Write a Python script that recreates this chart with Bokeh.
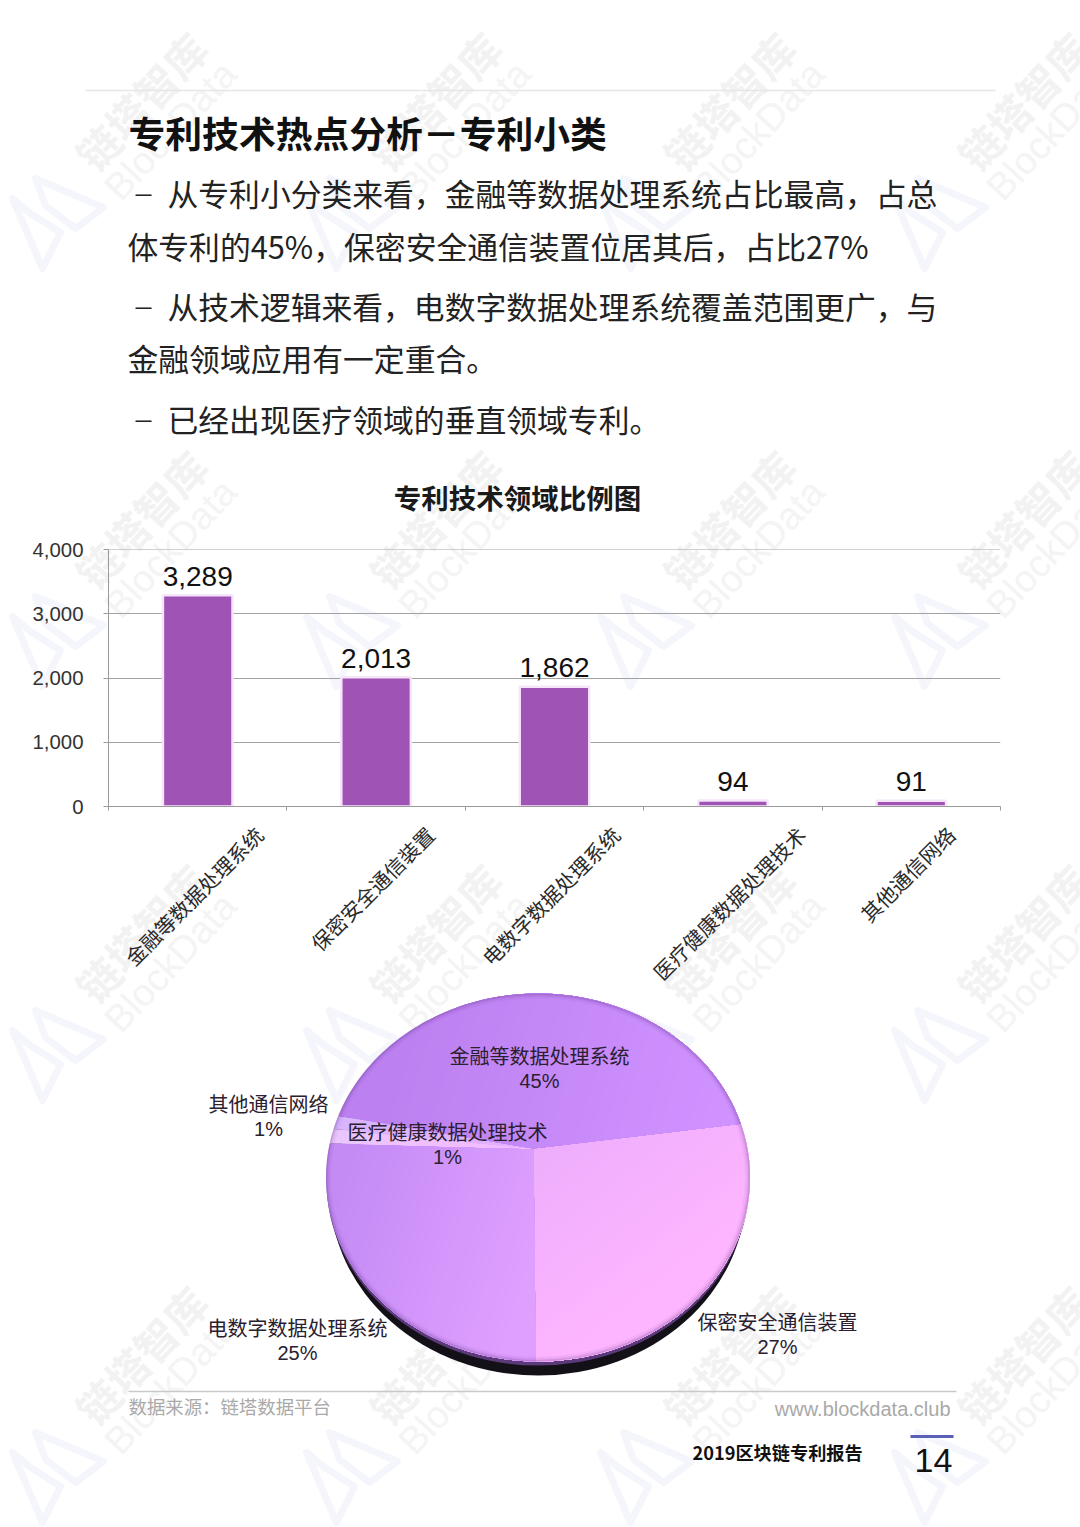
import math
import numpy as np
from bokeh.embed import file_html
from bokeh.layouts import column
from bokeh.models import ColumnDataSource, FixedTicker, LabelSet, LinearAxis, NumeralTickFormatter, Range1d, Span
from bokeh.plotting import figure
from bokeh.resources import INLINE
from bokeh.core.properties import value

categories = ["金融等数据处理系统", "保密安全通信装置", "电数字数据处理系统", "医疗健康数据处理技术", "其他通信网络"]
counts = [3289, 2013, 1862, 94, 91]
y_ticks = [0, 1000, 2000, 3000, 4000]

title_text = "专利技术热点分析－专利小类"
chart_title = "专利技术领域比例图"
bullet_lines = ["从专利小分类来看，金融等数据处理系统占比最高，占总",
                "体专利的45%，保密安全通信装置位居其后，占比27%",
                "从技术逻辑来看，电数字数据处理系统覆盖范围更广，与",
                "金融领域应用有一定重合。",
                "已经出现医疗领域的垂直领域专利。"]

CJK = "Noto Sans CJK SC"
LAT = "Liberation Sans"
W, H = 1080, 1527

# ---------- page layer: pixel coordinates of the page ----------
bg = figure(width=W, height=H, x_range=Range1d(0, W), y_range=Range1d(H, 0),
            output_backend="svg", toolbar_location=None, min_border=0,
            x_axis_type=None, y_axis_type=None, outline_line_color=None, frame_align=False)
bg.grid.visible = False
bg.background_fill_color = "white"
bg.border_fill_color = "white"

def put(x, y, s, size, color="#1a1a1a", font=CJK, style="normal", align="left", angle=0.0, fig=bg):
    fig.text([x], [y], text=[s], text_font=value(font), text_font_size=f"{size}px",
             text_font_style=style, text_color=color, text_align=align,
             text_baseline="middle", angle=angle)

# watermark tiles
for ty in [0, 418, 832, 1254]:
    for tx in [0, 294, 588, 882]:
        put(140 + tx, 100 + ty, "链塔智库", 42, "#f2f2f2", style="bold", align="center", angle=math.radians(47))
        put(170 + tx, 130 + ty, "BlockData", 38, "#f4f4f4", font=LAT, align="center", angle=math.radians(47))
        bg.patches([[12 + tx, 42 + tx, 60 + tx, 30 + tx], [35 + tx, 103 + tx, 75 + tx, 45 + tx]],
                   [[198 + ty, 268 + ty, 232 + ty, 213 + ty], [178 + ty, 207 + ty, 228 + ty, 205 + ty]],
                   fill_color=None, line_color="#f5f6fc", line_width=7, line_join="round")

# page text
bg.segment([85], [90], [995], [90], line_color="#e6e6e6", line_width=1.5)
put(128, 131, title_text, 36.8, "#111111", style="bold")
for yy in [192, 305, 418]:
    put(132, yy, "－", 22, "#222222")
put(167, 192, bullet_lines[0], 30.8, "#222222")
put(127, 245, bullet_lines[1], 30.8, "#222222")
put(167, 305, bullet_lines[2], 30.8, "#222222")
put(127, 357, bullet_lines[3], 30.8, "#222222")
put(167, 418, bullet_lines[4], 30.8, "#222222")
put(517, 496, chart_title, 27.5, "#1a1a1a", style="bold", align="center")

# ---------- pie ----------
cx, cy, rx, ry = 537.5, 1177.0, 212.0, 184.0
ax, ay = 533.0, 1148.0
d = (cy - ay) / ry

def on_rim(theta):
    X, Y = np.cos(theta), np.sin(theta)
    den = 1 + d * Y
    return cx + rx * X * math.sqrt(1 - d * d) / den, cy - ry * (Y + d) / den

def clip_half(px, py, nx, ny, c):
    out_x, out_y = [], []
    n = len(px)
    for i in range(n):
        x0, y0, x1, y1 = px[i], py[i], px[(i + 1) % n], py[(i + 1) % n]
        s0, s1 = nx * x0 + ny * y0 - c, nx * x1 + ny * y1 - c
        if s0 >= 0:
            out_x.append(x0); out_y.append(y0)
        if s0 * s1 < 0:
            t = s0 / (s0 - s1)
            out_x.append(x0 + t * (x1 - x0)); out_y.append(y0 + t * (y1 - y0))
    return out_x, out_y

def hex_rgb(h):
    return tuple(int(h[i:i + 2], 16) for i in (1, 3, 5))

# gradient per slice: from point, to point, from colour, to colour
shades = [((400, 1040), (700, 1130), "#BC80F0", "#D092FF"),
          ((545, 1150), (655, 1290), "#EEAEFC", "#FEB5FF"),
          ((335, 1190), (530, 1250), "#C48BF5", "#DF9FFF"),
          ((335, 1130), (530, 1148), "#EAC6FF", "#F5B8FF"),
          ((335, 1130), (530, 1148), "#D8B4FF", "#E5B0FF")]

total = sum(counts)
order = [1, 2, 3, 4, 0]
start = math.radians(8.1)
angle = start
xs, ys, cols = [], [], []
for idx in order:
    sweep = 2 * math.pi * counts[idx] / total
    th = np.linspace(angle, angle - sweep, 90)
    rim_x, rim_y = on_rim(th)
    px = [ax] + list(rim_x)
    py = [ay] + list(rim_y)
    angle -= sweep
    (x0, y0), (x1, y1), c0, c1 = shades[idx]
    L = math.hypot(x1 - x0, y1 - y0)
    nx, ny = (x1 - x0) / L, (y1 - y0) / L
    xs.append(px); ys.append(py); cols.append(c0)
    a, b = hex_rgb(c0), hex_rgb(c1)
    for k in range(1, 25):
        f = k / 24
        qx, qy = clip_half(px, py, nx, ny, nx * x0 + ny * y0 + f * L)
        if len(qx) > 2:
            xs.append(qx); ys.append(qy)
            cols.append("#%02x%02x%02x" % tuple(round(a[i] + f * (b[i] - a[i])) for i in range(3)))

bg.ellipse([cx], [cy + 14], width=rx * 2 - 8, height=ry * 2, fill_color="#141018", line_color=None)
bg.ellipse([cx], [cy + 4], width=rx * 2 - 1, height=ry * 2, fill_color="#5a3a78", line_color=None)
bg.patches(xs, ys, fill_color=cols, line_color=None)
for lw, al in [(5, 0.05), (3, 0.08), (1.5, 0.15)]:
    bg.ellipse([cx], [cy], width=rx * 2 - lw, height=ry * 2 - lw, fill_color=None,
               line_color="#4e2a70", line_alpha=al, line_width=lw)

pct = [f"{round(v / total * 100)}%" for v in counts]
pie_pos = [(539, 1055), (777, 1321), (297, 1327), (447, 1131), (268, 1103)]
for name, p_txt, (lx, ly) in zip(categories, pct, pie_pos):
    put(lx, ly, name, 20, "#2a2030", align="center")
    put(lx, ly + 25, p_txt, 20, "#2a2030", font=LAT, align="center")

# footer
bg.segment([128], [1391], [956], [1391], line_color="#c9c9c9", line_width=1.5)
put(128, 1405, "数据来源：链塔数据平台", 18.4, "#a9a9a9")
put(950, 1408, "www.blockdata.club", 20, "#a9a9a9", font=LAT, align="right")
put(692, 1451.5, "2019区块链专利报告", 18.2, "#111111", style="bold")
bg.segment([910], [1436], [953], [1436], line_color="#5a60b8", line_width=3)
put(933, 1460, "14", 34, "#111111", font=LAT, align="center")

# ---------- bar chart layer, laid over the page ----------
top_y, bottom_y = 470, 1040
p = figure(width=W, height=bottom_y - top_y, x_range=Range1d(0, 5), y_range=Range1d(0, 4000),
           output_backend="svg", toolbar_location=None,
           min_border_left=108, min_border_right=80, min_border_top=79,
           min_border_bottom=bottom_y - top_y - 79 - 257,
           outline_line_color=None, margin=(top_y - H, 0, 0, 0), frame_align=False)
p.background_fill_alpha = 0
p.border_fill_alpha = 0
p.xgrid.visible = False
p.ygrid.ticker = FixedTicker(ticks=y_ticks)
p.ygrid.grid_line_color = "#a2a2a2"
p.ygrid.grid_line_width = 1.2
p.add_layout(Span(location=y_ticks[-1], dimension="width", line_color="#a2a2a2", line_width=1.2))
p.yaxis.ticker = FixedTicker(ticks=y_ticks)
p.yaxis.formatter = NumeralTickFormatter(format="0,0")
p.yaxis.axis_line_color = "#9a9a9a"
p.yaxis.major_tick_line_color = "#9a9a9a"
p.yaxis.minor_tick_line_color = None
p.yaxis.major_tick_in = 0
p.yaxis.major_tick_out = 5
p.yaxis.major_label_text_font = LAT
p.yaxis.major_label_text_font_size = "20.4px"
p.yaxis.major_label_text_color = "#333333"
p.yaxis.major_label_standoff = 20
p.xaxis.ticker = FixedTicker(ticks=list(range(6)))
p.xaxis.major_label_overrides = {i: "" for i in range(6)}
p.xaxis.axis_line_color = "#9a9a9a"
p.xaxis.major_tick_line_color = "#9a9a9a"
p.xaxis.minor_tick_line_color = None
p.xaxis.major_tick_in = 0
p.xaxis.major_tick_out = 4

# category labels: an axis of its own whose ticks sit where each slanted label ends
label_ticks = [round(i + 0.5 + (len(c) * 7.25 - 4) / 178.4, 4) for i, c in enumerate(categories)]
label_axis = LinearAxis(ticker=FixedTicker(ticks=label_ticks),
                        major_label_overrides=dict(zip(label_ticks, categories)),
                        major_label_orientation=math.pi / 4,
                        major_label_text_font=CJK, major_label_text_font_size="20.5px",
                        major_label_text_color="#2a2a2a", major_label_standoff=14,
                        axis_line_color=None, major_tick_line_color=None, minor_tick_line_color=None)
p.add_layout(label_axis, "below")

src = ColumnDataSource(dict(
    x=[i + 0.5 for i in range(len(counts))],
    y=counts,
    txt=[f"{v:,}" for v in counts],
))
p.vbar(x="x", top="y", width=0.39, source=src, fill_color="#9f53b4",
       line_color="#f6e6fa", line_width=2.5)
p.add_layout(LabelSet(x="x", y="y", text="txt", source=src, y_offset=9.5, text_align="center",
                      text_baseline="bottom", text_font=value(LAT), text_font_size="28px",
                      text_color="#111111"))

page = column(bg, p, spacing=0)
open("out.html", "w").write(file_html(page, INLINE))
